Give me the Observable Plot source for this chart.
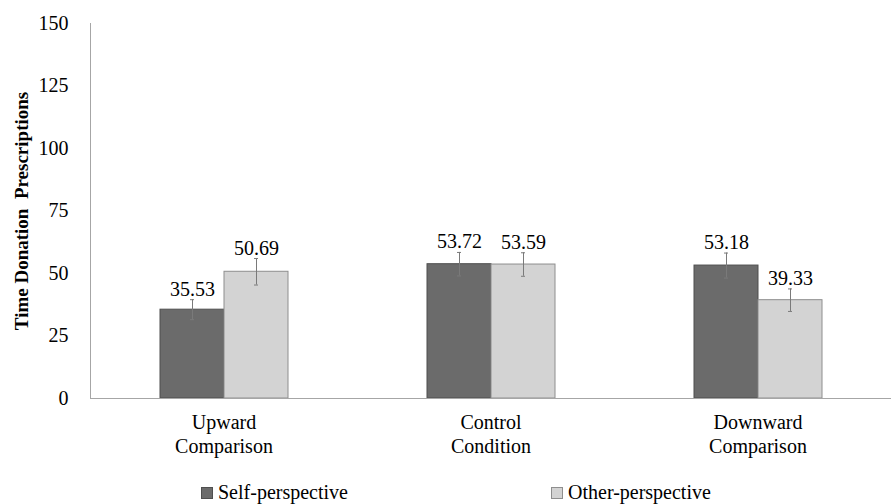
<!DOCTYPE html>
<html><head><meta charset="utf-8">
<script src="https://cdn.jsdelivr.net/npm/d3@7"></script>
<script src="https://cdn.jsdelivr.net/npm/@observablehq/plot@0.6"></script>
<style>
body{margin:0;background:#fff;font-family:"Liberation Serif",serif;}
#legend{position:relative;height:24px;font-size:20px;line-height:24px;color:#000;}
#legend .item{position:absolute;top:0;white-space:nowrap;}
#legend .sw{display:inline-block;width:10px;height:10px;margin-right:5px;vertical-align:0px;}
</style>
</head><body>
<div id="chart"></div>
<div id="legend"></div>
<script>
// Conditions on the x axis (with their two-line labels)
const conditions = ["Upward Comparison", "Control Condition", "Downward Comparison"];
const conditionLines = [["Upward", "Comparison"], ["Control", "Condition"], ["Downward", "Comparison"]];
// Series
const perspectives = ["Self-perspective", "Other-perspective"];
const selfMeans = [35.53, 53.72, 53.18];
const otherMeans = [50.69, 53.59, 39.33];
// Standard error half-widths
const selfErrors = [4.0, 4.7, 5.0];
const otherErrors = [5.3, 4.7, 4.5];
// Y axis ticks
const yTicks = [0, 25, 50, 75, 100, 125, 150];

const fills = ["#6b6b6b", "#d3d3d3"];
const outlines = ["#4f4f4f", "#8e8e8e"];

const rows = conditions.flatMap((c, i) => [
  {condition: c, perspective: perspectives[0], mean: selfMeans[i], err: selfErrors[i], k: 0},
  {condition: c, perspective: perspectives[1], mean: otherMeans[i], err: otherErrors[i], k: 1}
]);

const chart = Plot.plot({
  width: 896,
  height: 480,
  marginLeft: 90,
  marginRight: 5,
  marginTop: 23,
  marginBottom: 82,
  style: {fontFamily: "Liberation Serif", fontSize: "20px", color: "#000", background: "#fff"},
  fx: {domain: conditions, padding: 0, label: null},
  x: {domain: perspectives, paddingInner: 0, paddingOuter: 1.07, axis: null},
  y: {domain: [0, 150]},
  marks: [
    Plot.axisY(yTicks, {tickSize: 0, tickPadding: 22, fontSize: 20, label: null, fontVariant: "normal"}),
    Plot.axisY({ticks: [], label: "Time Donation  Prescriptions", labelAnchor: "center", labelOffset: 76, fontSize: 19, fontWeight: "bold", labelArrow: "none"}),
    Plot.axisFx({
      anchor: "bottom", tickSize: 0, tickPadding: 13, lineHeight: 1.2, fontSize: 20, label: null,
      tickFormat: c => conditionLines[conditions.indexOf(c)].join("\n")
    }),
    Plot.barY(rows, {
      fx: "condition", x: "perspective", y: "mean",
      fill: d => fills[d.k], stroke: d => outlines[d.k], strokeWidth: 1
    }),
    Plot.ruleX(rows, {fx: "condition", x: "perspective", y1: d => d.mean - d.err, y2: d => d.mean + d.err, stroke: "#7a7a7a"}),
    Plot.tickY(rows, {fx: "condition", x: "perspective", y: d => d.mean + d.err, stroke: "#7a7a7a", insetLeft: 30, insetRight: 30}),
    Plot.tickY(rows, {fx: "condition", x: "perspective", y: d => d.mean - d.err, stroke: "#7a7a7a", insetLeft: 30, insetRight: 30}),
    Plot.text(rows, {
      fx: "condition", x: "perspective", y: d => d.mean + d.err,
      text: d => d.mean.toFixed(2), lineAnchor: "bottom", dy: -4, fontSize: 20, fill: "#000"
    }),
    Plot.ruleY([0], {stroke: "#a6a6a6"}),
    Plot.frame({anchor: "left", stroke: "#a6a6a6", facetAnchor: "left"})
  ]
});
document.getElementById("chart").appendChild(chart);

// Legend below the chart
const legendLeft = [201, 551];
const legend = document.getElementById("legend");
perspectives.forEach((p, k) => {
  const item = document.createElement("span");
  item.className = "item";
  item.style.left = legendLeft[k] + "px";
  const sw = document.createElement("span");
  sw.className = "sw";
  sw.style.background = fills[k];
  sw.style.border = "1px solid " + outlines[k];
  item.appendChild(sw);
  item.appendChild(document.createTextNode(p));
  legend.appendChild(item);
});
</script>
</body></html>
